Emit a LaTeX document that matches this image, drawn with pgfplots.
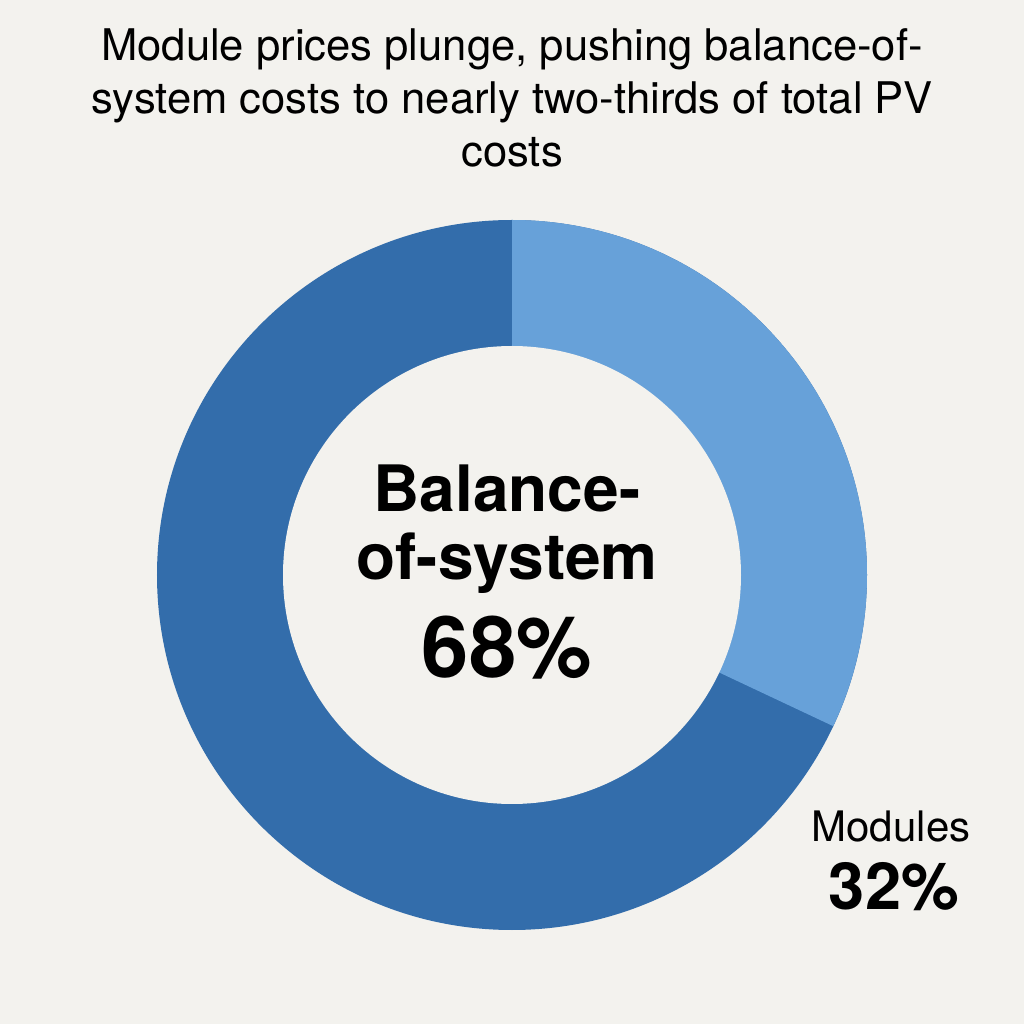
\documentclass[border=0pt]{standalone}
\usepackage{pgfplots}
\pgfplotsset{compat=1.18}
\usepackage{pgfplotstable}
\usepackage{fontspec}
\setmainfont{TeX Gyre Heros}

\definecolor{bgcol}{HTML}{F3F2EE}
\definecolor{bosblue}{HTML}{336DAB}
\definecolor{modblue}{HTML}{67A1D9}

% share of total PV costs (%)
\pgfplotstableread{
part value
Modules 32
BOS 68
}\sharetable

\pgfplotstablegetelem{0}{value}\of\sharetable
\let\modval\pgfplotsretval
\pgfplotstablegetelem{1}{value}\of\sharetable
\let\bosval\pgfplotsretval

\begin{document}
\begin{tikzpicture}
  % axis in pixel units: 1 unit = 0.5pt, y measured upwards
  \begin{axis}[
    at={(0,0)}, anchor=south west,
    width=512pt, height=512pt, scale only axis,
    xmin=0, xmax=1024, ymin=0, ymax=1024,
    hide axis, clip=false
  ]
    \fill[bgcol] (axis cs:0,0) rectangle (axis cs:1024,1024);

    % donut: outer r = 355 px, inner r = 229 px
    \pgfmathsetmacro{\modend}{90-3.6*\modval}
    \fill[bosblue] (axis cs:512,449) circle[radius=177.5pt];
    \fill[modblue] (axis cs:512,449) -- ++(90:177.5pt)
      arc[start angle=90, end angle=\modend, radius=177.5pt] -- cycle;
    \fill[bgcol] (axis cs:512,449) circle[radius=114.5pt];

    % title
    \node[anchor=base, font=\fontsize{21.8pt}{26pt}\selectfont]
      at (axis cs:512,963) {Module prices plunge, pushing balance-of-};
    \node[anchor=base, font=\fontsize{21.8pt}{26pt}\selectfont]
      at (axis cs:512,910) {system costs to nearly two-thirds of total PV};
    \node[anchor=base, font=\fontsize{21.8pt}{26pt}\selectfont]
      at (axis cs:512,857) {costs};

    % centre label
    \node[anchor=base, font=\fontsize{32pt}{36pt}\selectfont\bfseries]
      at (axis cs:507,512) {Balance-};
    \node[anchor=base, font=\fontsize{32pt}{36pt}\selectfont\bfseries]
      at (axis cs:507,444) {of-system};
    \node[anchor=base, font=\fontsize{42.5pt}{46pt}\selectfont\bfseries]
      at (axis cs:507,346) {\bosval\%};

    % outside label
    \node[anchor=base, font=\fontsize{21pt}{24pt}\selectfont]
      at (axis cs:891,182) {Modules};
    \node[anchor=base, font=\fontsize{32.5pt}{36pt}\selectfont\bfseries]
      at (axis cs:894,114) {\modval\%};
  \end{axis}
\end{tikzpicture}
\end{document}
